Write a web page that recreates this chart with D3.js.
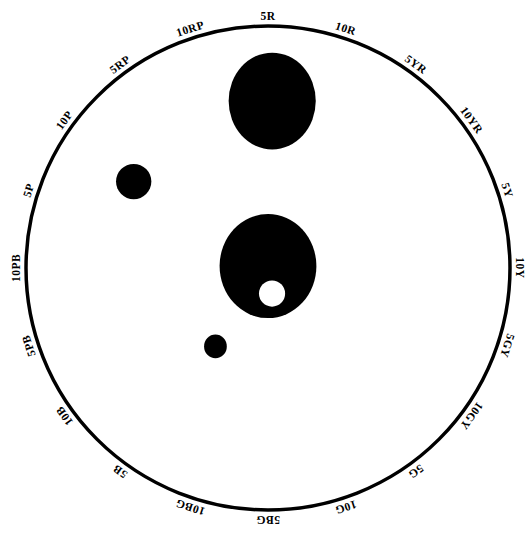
<!DOCTYPE html>
<html>
<head>
<meta charset="utf-8">
<script src="https://cdn.jsdelivr.net/npm/d3@7"></script>
<style>
  body { margin: 0; background: #fff; }
  text { font-family: "Liberation Serif", "DejaVu Serif", serif; font-weight: bold; }
</style>
</head>
<body>
<div id="chart"></div>
<script>
// hue names around the circle, clockwise from top
const hues = ["5R", "10R", "5YR", "10YR", "5Y", "10Y", "5GY", "10GY", "5G", "10G",
              "5BG", "10BG", "5B", "10B", "5PB", "10PB", "5P", "10P", "5RP", "10RP"];

// blobs: hue position (0-20), distance from centre (0-1), radii (same units)
const blobHue  = [0.08, 0,     16.82, 11.88];
const blobDist = [0.69, 0.008, 0.66,  0.39];
const blobRx   = [0.18, 0.2,   0.073, 0.047];
const blobRy   = [0.2,  0.215, 0.073, 0.049];

// white hole inside the central blob
const holeHue  = [9.5];
const holeDist = [0.107];
const holeR    = [0.054];

const width = 528, height = 533;
const cx = 268, cy = 268, R = 242;

const svg = d3.select("#chart").append("svg")
    .attr("width", width)
    .attr("height", height);

const g = svg.append("g")
    .attr("transform", "translate(" + cx + "," + cy + ")");

const angle = d3.scaleLinear().domain([0, 20]).range([0, 2 * Math.PI]);
const rad = d3.scaleLinear().domain([0, 1]).range([0, R]);

function px(h, d) { return rad(d) * Math.sin(angle(h)); }
function py(h, d) { return -rad(d) * Math.cos(angle(h)); }

// outer ring
g.append("circle")
    .attr("r", rad(1))
    .attr("fill", "none")
    .attr("stroke", "#000")
    .attr("stroke-width", 3.5);

// hue labels
g.selectAll(".hue")
    .data(hues)
    .enter().append("text")
    .attr("class", "hue")
    .attr("transform", function(d, i) {
        const a = angle(i) * 180 / Math.PI;
        return "rotate(" + a + ") translate(0," + (-rad(1.035)) + ")";
    })
    .attr("text-anchor", "middle")
    .attr("dominant-baseline", "middle")
    .attr("font-size", 11.5)
    .attr("letter-spacing", 0.5)
    .text(function(d) { return d; });

// blobs
g.selectAll(".blob")
    .data(blobHue)
    .enter().append("ellipse")
    .attr("class", "blob")
    .attr("cx", function(d, i) { return px(d, blobDist[i]); })
    .attr("cy", function(d, i) { return py(d, blobDist[i]); })
    .attr("rx", function(d, i) { return rad(blobRx[i]); })
    .attr("ry", function(d, i) { return rad(blobRy[i]); })
    .attr("fill", "#000");

g.selectAll(".hole")
    .data(holeHue)
    .enter().append("circle")
    .attr("class", "hole")
    .attr("cx", function(d, i) { return px(d, holeDist[i]); })
    .attr("cy", function(d, i) { return py(d, holeDist[i]); })
    .attr("r", function(d, i) { return rad(holeR[i]); })
    .attr("fill", "#fff");
</script>
</body>
</html>
